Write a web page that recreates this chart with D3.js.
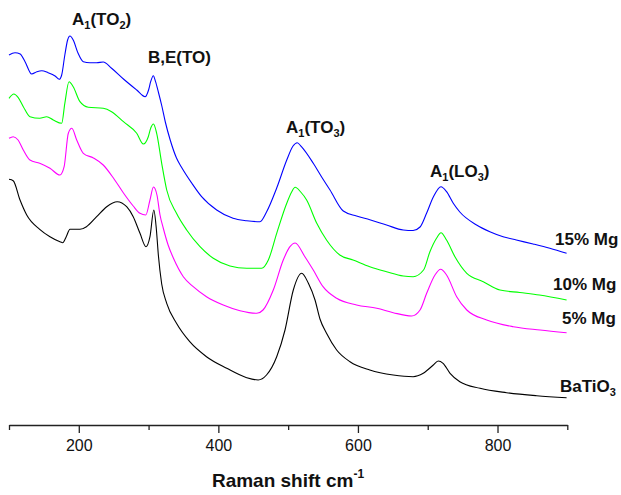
<!DOCTYPE html>
<html><head><meta charset="utf-8">
<script src="https://cdn.jsdelivr.net/npm/d3@7"></script>
<style>
body{margin:0;background:#fff;}
svg{display:block;font-family:"Liberation Sans",Arial,sans-serif;}
</style></head>
<body><svg id="c" width="621" height="495"></svg>
<script>
// Raman shift (cm-1) and intensity (a.u., offset-stacked as in the figure)
const xTicks = [100,200,300,400,500,600,700,800,900];
const tickLabels = ["","200","","400","","600","","800",""];
const seriesNames = ["15% Mg","10% Mg","5% Mg","BaTiO3"];
const seriesColors = ["#0000ff","#00ff00","#ff00ff","#000000"];

const shift15 = [100,108.6,116,123,132.5,140,147,156,166,172,175.5,180,184,187.4,192,199,206.5,216,225.6,235,247,264,283,295,300,303,306.8,310,314,319,324,331,340,347,362,376,397.6,421,440.6,459.6,469,483.6,498,507,513,519,536,548,560,579,598,617,641,665,679,689,698.5,708,719,727,736.6,746,770,789,808,827,851,875,899];
const int15 = [370,372.3,371,363.3,351,353.3,354.3,352.3,349,345.7,350,370,385,389,385,371.7,363.3,362.3,362.3,363,356.7,346,335,328.3,335,343.3,349.3,343.3,333,319,303,285,267,258,241.7,228.3,215,206.7,204.3,203.3,213,237,265,279,282.3,278.3,261.7,248,235,214,209,205.2,200,195,194.5,198,212,228,238.3,233.3,221.7,213,200,193.3,188.3,185,181,176.7,171.7];

const shift10 = [100,107,113,120.5,130,144,154,163.5,175.5,180,186,192,201.7,213.6,235,247,264,283,292.4,299.6,303,307,311.6,318.8,326,340,354.6,373.7,392.7,416.6,440.6,462,471.6,483.6,498,505,510,518,526.5,541,555,574,593,617,641,665,679,694,703,712.8,719,727,739,756,779.6,803.5,832,860,899];
const int10 = [326.7,331,327.7,318.3,308.3,306.7,308.3,305,301.7,321.7,343.3,338.3,323.3,317.7,316.7,313.3,303.3,291.7,281,288.3,296.7,301,291.7,261.7,235,211.7,195,178.3,166.7,159,156.7,156.7,165,191.7,221.7,233,237.7,233,225,201.7,185,170,165,158.3,153.3,149,148.3,155,173,187,192.3,185,168.3,151.7,143.3,135,132.5,130,125];

const shift5 = [100,106,113,120.5,130,144,158.7,173,179,185,190,197,206.5,221,235,249.6,264,278,287.7,296,302,307,312,316.4,321,328,335.5,349.8,364,383,407,431,455,464,478.7,493,502.6,510,524,536,550,569.5,598,627,650.6,677,689,698.5,710.4,718.5,727,741.5,756,784.5,822.5,861,899];
const int5 = [286.7,288.3,285,275,265,261.7,256.7,250,258.3,291.7,296.7,285,271.7,267,260,247,232,219,211.7,210,225,238,230,210,197,180,167,148.3,138.3,128.3,120,114.3,111.7,115,135,165,178.3,182,168.3,155,138.3,126.7,120,116.7,112.3,109,115,131.7,150,155.7,150,128.3,115,105,98.3,95,92.3];

const shift0 = [100,106,115.8,125.4,144,158.7,173,177,182,187.4,201.7,211,225.6,240,255,268.6,278,287.7,296.3,302,307.5,311,314,318.8,326,340,359,383,412,440.6,457,469,483.6,495.5,507.4,519.4,529,538.5,545.6,555,569.5,588.6,617,650.6,679,693.6,708,715,722,732,746,775,813,856,899];
const int0 = [245.7,244.3,225,210,195.7,188.3,183.3,182.3,188.3,195.7,195.7,198.3,208.3,218.3,223.3,218.3,208.3,191.7,178.3,188.3,215,197,170,141,121.7,101.7,83.3,68.3,56.7,47.3,45,50,68.3,95,135,151.7,141.7,125,106,91.7,75,63.3,55,50,48.3,51.7,60,64,61.7,51.7,43.3,36.7,32.3,29.3,27.3];

const allShift = [shift15, shift10, shift5, shift0];
const allInt = [int15, int10, int5, int0];

const svg = d3.select("#c");
const x = d3.scaleLinear().domain([100,900]).range([9,567.3]);
const y = d3.scaleLinear().domain([0,425]).range([425,0]);

const line = d3.line().x(d=>x(d[0])).y(d=>y(d[1])).curve(d3.curveMonotoneX);
allShift.forEach((xs,i)=>{
  const pts = xs.map((v,j)=>[v, allInt[i][j]]);
  svg.append("path").datum(pts).attr("d", line)
    .attr("fill","none").attr("stroke", seriesColors[i]).attr("stroke-width",1.1);
});

// axis
const axis = d3.axisBottom(x).tickValues(xTicks).tickSizeOuter(0)
  .tickFormat((d,i)=>tickLabels[i]);
const g = svg.append("g").attr("transform","translate(0,425)").call(axis);
g.select(".domain").attr("stroke","#222").attr("stroke-width",1.5);
g.selectAll(".tick line").attr("stroke","#222").attr("stroke-width",1.3)
  .attr("y2",(d,i)=> tickLabels[i] ? 8 : 5);
g.selectAll(".tick text").attr("y",26).attr("dy",0)
  .attr("font-size",16).attr("font-family","'Liberation Sans',Arial,sans-serif").attr("fill","#111");

// axis title
const t = svg.append("text").attr("x",288).attr("y",487).attr("text-anchor","middle")
  .attr("font-size",19).attr("font-weight","bold").attr("fill","#111");
t.append("tspan").text("Raman shift cm");
t.append("tspan").attr("font-size",12).attr("dy",-9).text("-1");

// peak labels with subscripts
function label(parts, px, py){
  const el = svg.append("text").attr("x",px).attr("y",py)
    .attr("font-size",17).attr("font-weight","bold").attr("fill","#111");
  parts.forEach(p=>{
    const ts = el.append("tspan").text(p[0]);
    if(p[1]==="sub") ts.attr("font-size",11).attr("dy",4);
    if(p[1]==="up") ts.attr("dy",-4);
  });
}
label([["A"],["1","sub"],["(TO","up"],["2","sub"],[")","up"]], 72, 25);
label([["B,E(TO)"]], 148, 63);
label([["A"],["1","sub"],["(TO","up"],["3","sub"],[")","up"]], 286, 133);
label([["A"],["1","sub"],["(LO","up"],["3","sub"],[")","up"]], 430, 177);
label([["15% Mg"]], 555, 245);
label([["10% Mg"]], 553, 290);
label([["5% Mg"]], 562, 324);
label([["BaTiO"],["3","sub"]], 560, 392);
</script></body></html>
